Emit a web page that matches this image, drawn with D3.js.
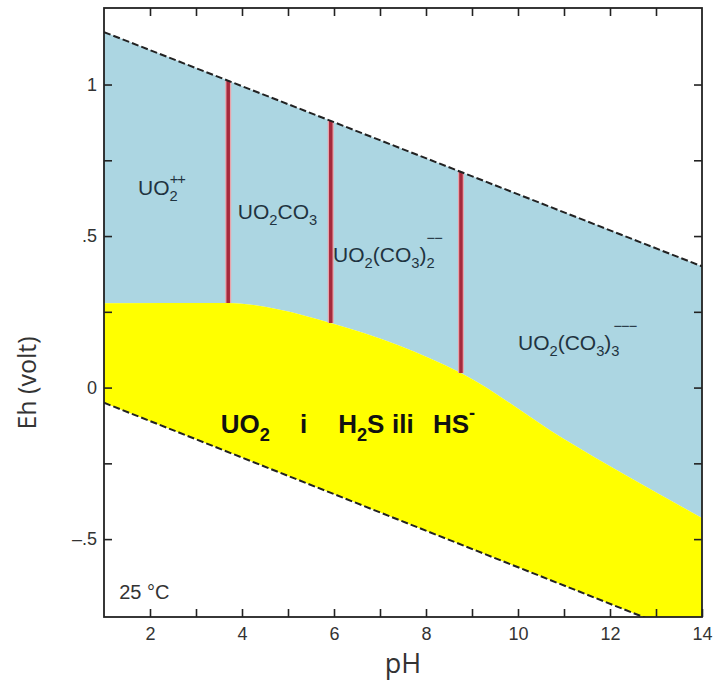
<!DOCTYPE html>
<html>
<head>
<meta charset="utf-8">
<script src="https://cdn.jsdelivr.net/npm/d3@7/dist/d3.min.js"></script>
<style>
body { margin: 0; background: #fff; }
</style>
</head>
<body>
<div id="chart"></div>
<script>
// axis ticks
var phTicks = [2, 3, 4, 5, 6, 7, 8, 9, 10, 11, 12, 13];
var phLabels = [2, 4, 6, 8, 10, 12, 14];
var ehTicks = [-0.5, -0.25, 0, 0.25, 0.5, 0.75, 1];
var ehLabels = [-0.5, 0, 0.5, 1];

// water stability limits (dashed)
var upperWaterPH = [1, 14];
var upperWaterEh = [1.173, 0.40];
var lowerWaterPH = [1, 14];
var lowerWaterEh = [-0.05, -0.834];

// top of the UO2 (uraninite) field
var uo2TopPH = [1, 3.7, 4.8, 5.93, 7.4, 8.76, 11, 14];
var uo2TopEh = [0.278, 0.279, 0.258, 0.213, 0.14, 0.048, -0.17, -0.43];

// vertical boundaries between aqueous species
var speciesBoundPH = [3.7, 5.93, 8.76];

var W = 716, H = 682;
var plot = {left: 104, right: 702, top: 8, bottom: 617};

var x = d3.scaleLinear().domain([1, 14]).range([plot.left, plot.right]);
var y = d3.scaleLinear().domain([-0.757, 1.2525]).range([plot.bottom, plot.top]);

var upperAt = d3.scaleLinear().domain(upperWaterPH).range(upperWaterEh);
var lowerAt = d3.scaleLinear().domain(lowerWaterPH).range(lowerWaterEh);
var uo2At = d3.scaleLinear().domain(uo2TopPH).range(uo2TopEh);

var svg = d3.select("#chart").append("svg").attr("width", W).attr("height", H)
    .style("font-family", "'Liberation Sans', Arial, sans-serif");

svg.append("clipPath").attr("id", "plotclip").append("rect")
    .attr("x", plot.left).attr("y", plot.top)
    .attr("width", plot.right - plot.left).attr("height", plot.bottom - plot.top);

var fields = svg.append("g").attr("clip-path", "url(#plotclip)");

var blueArea = d3.area().curve(d3.curveMonotoneX)
    .x(function(d) { return x(d); })
    .y0(function(d) { return y(uo2At(d)); })
    .y1(function(d) { return y(upperAt(d)); });
var yellowArea = d3.area().curve(d3.curveMonotoneX)
    .x(function(d) { return x(d); })
    .y0(function(d) { return y(lowerAt(d)); })
    .y1(function(d) { return y(uo2At(d)); });

fields.append("path").attr("d", blueArea(uo2TopPH)).attr("fill", "#acd6e2");
fields.append("path").attr("d", yellowArea(uo2TopPH)).attr("fill", "#ffff00");

// red species boundaries
speciesBoundPH.forEach(function(p) {
    fields.append("line").attr("x1", x(p)).attr("x2", x(p))
        .attr("y1", y(uo2At(p))).attr("y2", y(upperAt(p)))
        .attr("stroke", "#e9a3ab").attr("stroke-width", 6);
    fields.append("line").attr("x1", x(p)).attr("x2", x(p))
        .attr("y1", y(uo2At(p))).attr("y2", y(upperAt(p)))
        .attr("stroke", "#a52a3c").attr("stroke-width", 3.5);
});

// dashed water lines
var waterLine = d3.line().x(function(d) { return x(d[0]); }).y(function(d) { return y(d[1]); });
fields.append("path").attr("d", waterLine(d3.zip(upperWaterPH, upperWaterEh)))
    .attr("fill", "none").attr("stroke", "#222").attr("stroke-width", 2).attr("stroke-dasharray", "7,3");
fields.append("path").attr("d", waterLine(d3.zip(lowerWaterPH, lowerWaterEh)))
    .attr("fill", "none").attr("stroke", "#222").attr("stroke-width", 2).attr("stroke-dasharray", "7,3");

// axes: inward ticks on all four sides
function ehFormat(d) {
    if (ehLabels.indexOf(d) < 0) return "";
    return String(d).replace("0.", ".").replace("-", "\u2013");
}
var axisB = svg.append("g").attr("transform", "translate(0," + plot.bottom + ")")
    .call(d3.axisBottom(x).tickValues(phTicks.concat([14])).tickSize(-8).tickPadding(10)
        .tickFormat(function(d) { return phLabels.indexOf(d) >= 0 ? d : ""; }));
var axisL = svg.append("g").attr("transform", "translate(" + plot.left + ",0)")
    .call(d3.axisLeft(y).tickValues(ehTicks).tickSize(-8).tickPadding(7).tickFormat(ehFormat));
var axisT = svg.append("g").attr("transform", "translate(0," + plot.top + ")")
    .call(d3.axisTop(x).tickValues(phTicks).tickSize(-8).tickFormat(""));
var axisR = svg.append("g").attr("transform", "translate(" + plot.right + ",0)")
    .call(d3.axisRight(y).tickValues(ehTicks).tickSize(-8).tickFormat(""));

[axisB, axisL, axisT, axisR].forEach(function(a) {
    a.select(".domain").remove();
    a.selectAll("line").attr("stroke", "#222").attr("stroke-width", 1.6);
    a.selectAll("text").attr("fill", "#333").attr("font-size", 18)
        .style("font-family", "'Liberation Sans', Arial, sans-serif");
});

svg.append("rect").attr("x", plot.left).attr("y", plot.top)
    .attr("width", plot.right - plot.left).attr("height", plot.bottom - plot.top)
    .attr("fill", "none").attr("stroke", "#222").attr("stroke-width", 1.8);

// axis titles
svg.append("text").attr("x", (plot.left + plot.right) / 2).attr("y", 673)
    .attr("text-anchor", "middle").attr("font-size", 27).attr("fill", "#333")
    .style("font-family", "'Open Sans', sans-serif").text("pH");
svg.append("text").attr("transform", "translate(36," + 383 + ") rotate(-90)")
    .attr("text-anchor", "middle").attr("font-size", 25).attr("fill", "#333")
    .style("font-family", "'Open Sans', sans-serif").text("Eh (volt)");

// chemical labels with sub/superscripts
function chem(ph, eh, parts, size, weight) {
    var t = svg.append("text").attr("x", x(ph)).attr("y", y(eh))
        .attr("font-size", size).attr("font-weight", weight || "normal").attr("fill", "#1f3340");
    var shift = 0;
    parts.forEach(function(p) {
        var kind = p[1] || "n";
        var s = kind === "sub" ? size * 0.3 : kind === "sup" ? -size * 0.55 : kind === "bar" ? -size * 0.9 : 0;
        var ts = t.append("tspan").attr("dy", s - shift).text(p[0]);
        if (kind !== "n") ts.attr("font-size", size * 0.7);
        if (p[2]) ts.attr("dx", p[2]);
        if (kind === "bar" || kind === "sup") ts.attr("letter-spacing", -1);
        shift = s;
    });
    return t;
}

chem(1.74, 0.635, [["UO"], ["2", "sub"], ["++", "sup", -8]], 21);
chem(3.91, 0.556, [["UO"], ["2", "sub"], ["CO"], ["3", "sub"]], 21);
chem(5.98, 0.414, [["UO"], ["2", "sub"], ["(CO"], ["3", "sub"], [")"], ["2", "sub"], ["\u2212\u2212", "bar", -8]], 21);
chem(10.0, 0.124, [["UO"], ["2", "sub"], ["(CO"], ["3", "sub"], [")"], ["3", "sub"], ["\u2212\u2212\u2212", "bar", -6]], 21);

chem(3.54, -0.15, [["UO"], ["2", "sub"]], 26, "bold").attr("fill", "#111");
chem(5.26, -0.15, [["i"]], 26, "bold").attr("fill", "#111");
chem(6.09, -0.15, [["H"], ["2", "sub"], ["S"]], 26, "bold").attr("fill", "#111");
chem(7.26, -0.15, [["ili"]], 26, "bold").attr("fill", "#111");
chem(8.15, -0.15, [["HS"], ["-", "sup"]], 26, "bold").attr("fill", "#111");

svg.append("text").attr("x", x(1.33)).attr("y", y(-0.698))
    .attr("font-size", 20).attr("fill", "#333").text("25 \u00b0C");
</script>
</body>
</html>
